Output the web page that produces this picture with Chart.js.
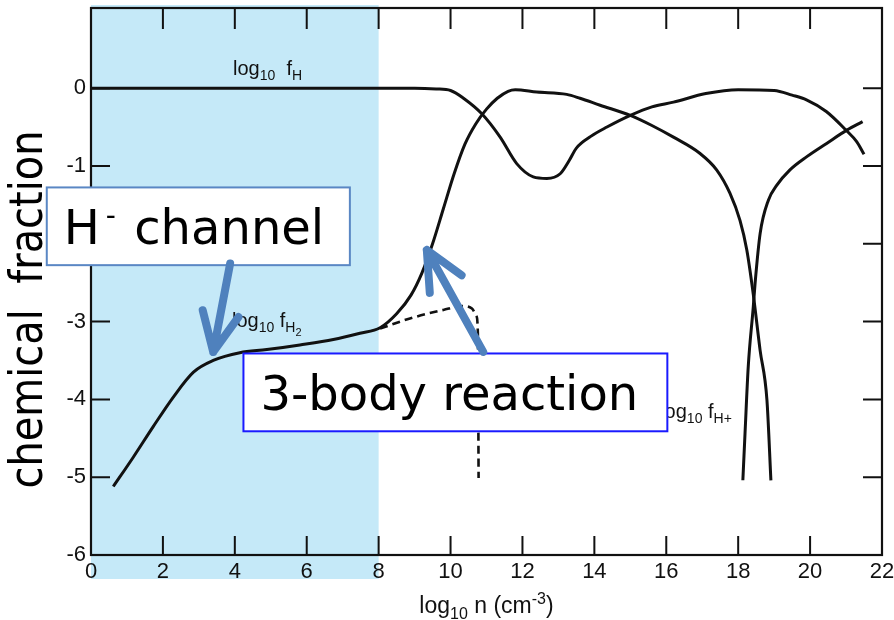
<!DOCTYPE html>
<html>
<head>
<meta charset="utf-8">
<script src="https://cdn.jsdelivr.net/npm/chart.js@4/dist/chart.umd.min.js"></script>
<style>
  html, body { margin: 0; padding: 0; background: #fff; }
  #wrap { width: 894px; height: 620px; }
</style>
</head>
<body>
<div id="wrap"><canvas id="c" width="894" height="620"></canvas></div>
<script>
// Chemical fractions (log10) versus log10 of number density n (cm^-3)

// atomic hydrogen
const hX = [0, 2, 4, 6, 8, 9.0, 9.6, 10.0, 10.36, 10.87, 11.38, 11.84, 12.3, 12.68, 13.05, 13.3, 13.5, 13.9, 14.35, 15.0, 15.6, 16.2, 17.1, 18.0, 19.0, 19.5, 19.9, 20.45, 21.0, 21.3, 21.5];
const hY = [0, 0, 0, 0, 0, 0, -0.01, -0.03, -0.13, -0.33, -0.63, -0.97, -1.14, -1.16, -1.10, -0.93, -0.77, -0.62, -0.50, -0.35, -0.24, -0.18, -0.07, -0.02, -0.03, -0.09, -0.15, -0.30, -0.54, -0.69, -0.85];

// molecular hydrogen
const h2X = [0.62, 1.18, 1.73, 2.29, 2.85, 3.40, 4.14, 4.89, 5.81, 6.74, 7.48, 8.04, 8.5, 8.9, 9.2, 9.5, 9.8, 10.1, 10.4, 10.7, 11.0, 11.3, 11.6, 11.8, 12.4, 13.23, 13.6, 14.16, 15.0, 15.6, 16.2, 16.94, 17.4, 17.77, 18.05, 18.24, 18.42, 18.61, 18.8, 18.91];
const h2Y = [-5.12, -4.74, -4.35, -3.97, -3.65, -3.50, -3.40, -3.36, -3.30, -3.23, -3.15, -3.08, -2.90, -2.66, -2.38, -2.00, -1.55, -1.10, -0.72, -0.46, -0.27, -0.13, -0.04, -0.02, -0.05, -0.08, -0.13, -0.22, -0.35, -0.48, -0.63, -0.84, -1.05, -1.35, -1.70, -2.08, -2.65, -3.37, -4.01, -5.04];

// ionised hydrogen
const hpX = [18.13, 18.19, 18.28, 18.42, 18.47, 18.61, 18.84, 19.07, 19.44, 19.91, 20.46, 21.02, 21.46];
const hpY = [-5.04, -4.44, -3.58, -2.81, -2.51, -1.87, -1.44, -1.25, -1.05, -0.88, -0.71, -0.54, -0.43];

// alternative H2 track (dashed)
const altX = [8.04, 8.87, 9.8, 10.36, 10.59, 10.72, 10.76, 10.78];
const altY = [-3.09, -2.96, -2.85, -2.80, -2.83, -2.93, -3.15, -5.01];

// axis ticks
const xTickValues = [0, 2, 4, 6, 8, 10, 12, 14, 16, 18, 20, 22];
const xTickLabels = ['0', '2', '4', '6', '8', '10', '12', '14', '16', '18', '20', '22'];
const yTickValues = [-6, -5, -4, -3, -2, -1, 0];
const yTickLabels = ['-6', '-5', '-4', '-3', '-2', '-1', '0'];

// H- dominated density range (shaded)
const shadeRange = [0, 8];

const pts = (xs, ys) => xs.map((x, i) => ({ x, y: ys[i] }));

// curve labels: runs of [text, level] with 0 normal, 1 subscript, 2 second-level subscript
const curveLabels = [
  { x: 3.95, y: 0.167, runs: [['log', 0], ['10', 1], ['  f', 0], ['H', 1]] },
  { x: 3.92, y: -3.07, runs: [['log', 0], ['10', 1], [' f', 0], ['H', 1], ['2', 2]] },
  { x: 15.83, y: -4.24, runs: [['log', 0], ['10', 1], [' f', 0], ['H', 1], ['+', 1]] }
];

// callout boxes (data units) and arrows; parts are [text, level, extra gap before]
const callouts = [
  { parts: [['H', 0, 0], ['-', 1, 6], [' channel', 0, 3]], x0: -1.23, x1: 7.20, y0: -1.276, y1: -2.275, stroke: '#5a87c4' },
  { parts: [['3-body reaction', 0, 0]], x0: 4.24, x1: 16.03, y0: -3.41, y1: -4.41, stroke: '#1a1aff' }
];
const arrows = [
  { from: [3.87, -2.253], to: [3.40, -3.39] },
  { from: [10.91, -3.39], to: [9.34, -2.08] }
];

const shadePlugin = {
  id: 'shade',
  beforeDraw(chart) {
    const { ctx, chartArea: a, scales: { x } } = chart;
    const l = x.getPixelForValue(shadeRange[0]);
    const r = x.getPixelForValue(shadeRange[1]);
    ctx.save();
    ctx.fillStyle = 'rgb(197,233,248)';
    ctx.fillRect(l, a.top - 3, r - l, a.bottom - a.top + 27);
    ctx.restore();
  }
};

const framePlugin = {
  id: 'frame',
  afterDatasetsDraw(chart) {
    const { ctx, chartArea: a, scales: { x, y } } = chart;
    ctx.save();
    ctx.strokeStyle = '#111';
    ctx.lineWidth = 2.2;
    ctx.strokeRect(a.left, a.top, a.right - a.left, a.bottom - a.top);
    ctx.lineWidth = 2;
    ctx.beginPath();
    x.ticks.forEach(t => {
      if (t.value <= x.min || t.value >= x.max) return;
      const px = x.getPixelForValue(t.value);
      ctx.moveTo(px, a.bottom); ctx.lineTo(px, a.bottom - 19);
      ctx.moveTo(px, a.top); ctx.lineTo(px, a.top + 21);
    });
    y.ticks.forEach(t => {
      if (t.value <= y.min) return;
      const py = y.getPixelForValue(t.value);
      ctx.moveTo(a.left, py); ctx.lineTo(a.left + 19, py);
      ctx.moveTo(a.right, py); ctx.lineTo(a.right - 19, py);
    });
    ctx.stroke();
    ctx.restore();
  }
};

function drawRuns(ctx, x0, y0, runs, sizes, shifts, family) {
  let cx = x0;
  runs.forEach(([t, lvl, gap]) => {
    cx += gap || 0;
    ctx.font = sizes[lvl] + 'px ' + family;
    ctx.fillText(t, cx, y0 + shifts[lvl]);
    cx += ctx.measureText(t).width;
  });
  return cx;
}

const notePlugin = {
  id: 'notes',
  afterDraw(chart) {
    const { ctx, chartArea: a, scales: { x, y } } = chart;
    ctx.save();
    ctx.fillStyle = '#111';
    ctx.textBaseline = 'alphabetic';
    ctx.textAlign = 'left';

    // curve labels
    curveLabels.forEach(l => {
      drawRuns(ctx, x.getPixelForValue(l.x), y.getPixelForValue(l.y), l.runs,
        [20, 14, 11], [0, 5, 9], '"Liberation Sans", Arial, sans-serif');
    });

    // x axis title
    const xr = [['log', 0], ['10', 1], [' n (cm', 0], ['-3', 2], [')', 0]];
    const xs = [23, 16, 16], xo = [0, 6, -9];
    let w = 0;
    xr.forEach(([t, l]) => { ctx.font = xs[l] + 'px "Liberation Sans", Arial, sans-serif'; w += ctx.measureText(t).width; });
    drawRuns(ctx, (a.left + a.right) / 2 - w / 2, a.bottom + 58, xr, xs, xo, '"Liberation Sans", Arial, sans-serif');

    // y axis title
    ctx.save();
    ctx.font = '46px "DejaVu Sans", Verdana, sans-serif';
    ctx.fillStyle = '#000';
    const yt = 'chemical  fraction';
    const tw = ctx.measureText(yt).width;
    ctx.translate(a.left - 49, (a.top + a.bottom) / 2 + 28 + 179);
    ctx.rotate(-Math.PI / 2);
    ctx.scale(358 / tw, 1);
    ctx.fillText(yt, 0, 0);
    ctx.restore();

    // callout boxes
    callouts.forEach(c => {
      const l = x.getPixelForValue(c.x0), r = x.getPixelForValue(c.x1);
      const t = y.getPixelForValue(c.y0), b = y.getPixelForValue(c.y1);
      ctx.fillStyle = '#fff';
      ctx.fillRect(l, t, r - l, b - t);
      ctx.strokeStyle = c.stroke;
      ctx.lineWidth = 2;
      ctx.strokeRect(l, t, r - l, b - t);
      ctx.fillStyle = '#000';
      drawRuns(ctx, l + 17, t + 57, c.parts, [48, 28], [0, -19], '"DejaVu Sans", Verdana, sans-serif');
    });

    // arrows
    ctx.strokeStyle = '#4f81bd';
    ctx.lineWidth = 8;
    ctx.lineCap = 'round';
    ctx.lineJoin = 'round';
    arrows.forEach(ar => {
      const fx = x.getPixelForValue(ar.from[0]), fy = y.getPixelForValue(ar.from[1]);
      const tx = x.getPixelForValue(ar.to[0]), ty = y.getPixelForValue(ar.to[1]);
      const ang = Math.atan2(fy - ty, fx - tx);
      const len = 43, spread = 25 * Math.PI / 180;
      ctx.beginPath();
      ctx.moveTo(fx, fy); ctx.lineTo(tx, ty);
      ctx.moveTo(tx + len * Math.cos(ang - spread), ty + len * Math.sin(ang - spread));
      ctx.lineTo(tx, ty);
      ctx.lineTo(tx + len * Math.cos(ang + spread), ty + len * Math.sin(ang + spread));
      ctx.stroke();
    });
    ctx.restore();
  }
};

const lineStyle = { borderColor: '#111', borderWidth: 3, pointRadius: 0, showLine: true, fill: false, cubicInterpolationMode: 'monotone' };

// fixed axis sizes, no extra room reserved for overhanging tick labels
const fitX = s => { s.height = 65; s.paddingLeft = 0; s.paddingRight = 0; s.paddingTop = 0; s.paddingBottom = 0; };
const fitY = s => { s.width = 91; s.paddingLeft = 0; s.paddingRight = 0; s.paddingTop = 0; s.paddingBottom = 0; };

new Chart(document.getElementById('c'), {
  type: 'scatter',
  data: {
    datasets: [
      Object.assign({ label: 'log10 fH', data: pts(hX, hY) }, lineStyle),
      Object.assign({ label: 'log10 fH2', data: pts(h2X, h2Y) }, lineStyle),
      Object.assign({ label: 'log10 fH+', data: pts(hpX, hpY) }, lineStyle),
      Object.assign({ label: 'log10 fH2 (alt.)', data: pts(altX, altY) }, lineStyle, { borderWidth: 2.6, borderDash: [8, 5] })
    ]
  },
  options: {
    responsive: false,
    animation: false,
    devicePixelRatio: 1,
    layout: { autoPadding: false, padding: { top: 8, right: 12, left: 0, bottom: 0 } },
    plugins: { legend: { display: false }, tooltip: { enabled: false } },
    scales: {
      x: {
        type: 'linear', min: 0, max: 22,
        afterBuildTicks: s => { s.ticks = xTickValues.map(v => ({ value: v })); },
        afterFit: fitX,
        grid: { display: false, drawTicks: false },
        border: { display: false },
        ticks: {
          callback: (v, i) => xTickLabels[i],
          font: { family: '"Liberation Sans", Arial, sans-serif', size: 22 },
          color: '#111', padding: 4, maxRotation: 0, autoSkip: false
        }
      },
      y: {
        type: 'linear', min: -6, max: 1.03,
        afterBuildTicks: s => { s.ticks = yTickValues.map(v => ({ value: v })); },
        afterFit: fitY,
        grid: { display: false, drawTicks: false },
        border: { display: false },
        ticks: {
          callback: (v, i) => yTickLabels[i],
          font: { family: '"Liberation Sans", Arial, sans-serif', size: 22 },
          color: '#111', padding: 5, autoSkip: false
        }
      }
    }
  },
  plugins: [shadePlugin, framePlugin, notePlugin]
});
</script>
</body>
</html>
